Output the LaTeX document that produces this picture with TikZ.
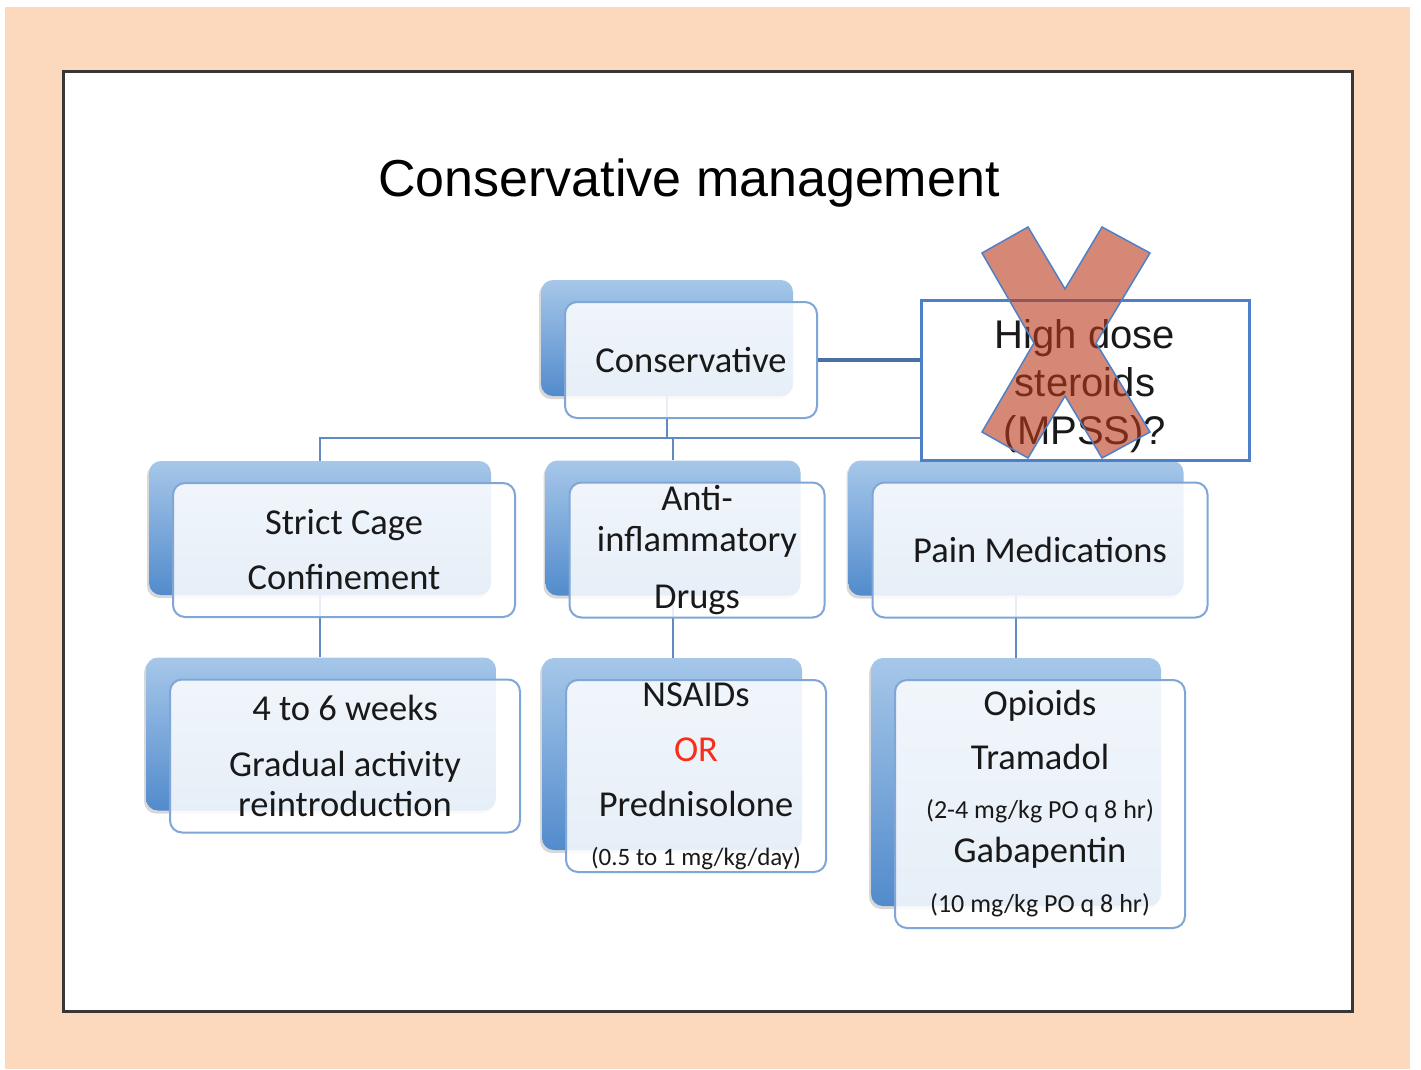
\documentclass[tikz,border=0pt]{standalone}
\usepackage{fontspec}
\setmainfont{Carlito}
\newfontfamily\arialfont{Liberation Sans}
\usetikzlibrary{calc, shadows}

\definecolor{peach}{RGB}{252,217,188}
\definecolor{framegray}{RGB}{55,55,55}
\definecolor{boxtop}{RGB}{166,199,233}
\definecolor{boxbot}{RGB}{82,139,204}
\definecolor{boxline}{RGB}{128,166,215}
\definecolor{linkblue}{RGB}{98,138,192}
\definecolor{sideblue}{RGB}{72,112,165}
\definecolor{doubtblue}{RGB}{78,128,200}
\definecolor{crossred}{RGB}{188,58,28}
\definecolor{orred}{RGB}{250,45,25}
\definecolor{inktext}{RGB}{25,25,25}

\begin{document}
\begin{tikzpicture}[x=1pt, y=-1pt,
        backbox/.style={rounded corners=12pt, top color=boxtop, bottom color=boxbot,
            drop shadow={shadow xshift=-2pt, shadow yshift=-3pt, opacity=0.3}},
        frontbox/.style={rounded corners=12pt, draw=boxline, line width=2, fill=white,
            fill opacity=0.86, text opacity=1, text=inktext, align=center, inner sep=0,
            font=\fontsize{36.5}{40}\selectfont},
        link/.style={draw=linkblue, line width=2.5},
        sidelink/.style={draw=sideblue, line width=4},
        doubtbox/.style={draw=doubtblue, line width=3, fill=white},
        doubttext/.style={align=center, text=inktext, font=\arialfont\fontsize{40}{48}\selectfont},
        cross/.style={fill=crossred, fill opacity=0.6, draw=doubtblue, line width=1.5}]
        \useasboundingbox (0,0) rectangle (1421,1069);
        \fill[peach] (5,7) rectangle (1410,1069);
        \draw[framegray, line width=3, fill=white] (63,71) rectangle (1352,1011);

        \node[font=\arialfont\fontsize{52}{60}\selectfont] (title) at (689,183) {Conservative management};

        % shaded boxes behind
        \node[backbox, minimum width=252, minimum height=116] (consB) at (667,338) {};
        \node[backbox, minimum width=342, minimum height=134] (strictB) at (320,528) {};
        \node[backbox, minimum width=255, minimum height=135] (antiB) at (673,528) {};
        \node[backbox, minimum width=335, minimum height=135] (painB) at (1016,528) {};
        \node[backbox, minimum width=350, minimum height=153] (weeksB) at (321,734) {};
        \node[backbox, minimum width=260, minimum height=192] (nsaidB) at (672,754) {};
        \node[backbox, minimum width=290, minimum height=248] (opioidB) at (1016,782) {};

        \coordinate (bus) at (0,438);
        \draw[link] (consB.south) -- (consB.south |- bus);
        \draw[link] (strictB.north) |- (painB.north |- bus) -- (painB.north);
        \draw[link] (antiB.north |- bus) -- (antiB.north);
        \draw[link] (strictB.south) -- (strictB.south |- weeksB.north);
        \draw[link] (antiB.south) -- (antiB.south |- nsaidB.north);
        \draw[link] (painB.south) -- (painB.south |- opioidB.north);

        % front boxes
        \node[frontbox, minimum width=252, minimum height=116] (cons) at ($(consB)+(24,22)$) {Conservative};
        \node[frontbox, minimum width=342, minimum height=134] (strict) at ($(strictB)+(24,22)$)
            {Strict Cage\\[15pt]Confinement};
        \node[frontbox, minimum width=255, minimum height=135] (anti) at ($(antiB)+(24,22)$)
            {Anti-\\[1pt]inflammatory\\[17pt]Drugs};
        \node[frontbox, minimum width=335, minimum height=135] (pain) at ($(painB)+(24,22)$) {Pain Medications};
        \node[frontbox, minimum width=350, minimum height=153] (weeks) at ($(weeksB)+(24,22)$)
            {4 to 6 weeks\\[16pt]Gradual activity\\reintroduction};
        \node[frontbox, minimum width=260, minimum height=192] (nsaid) at ($(nsaidB)+(24,22)$)
            {NSAIDs\\[15pt]{\color{orred}OR}\\[15pt]Prednisolone\\[9pt]{\fontsize{25}{30}\selectfont(0.5 to 1 mg/kg/day)}};
        \node[frontbox, minimum width=290, minimum height=248] (opioid) at ($(opioidB)+(24,22)$)
            {Opioids\\[14pt]Tramadol\\[9pt]{\fontsize{26}{30}\selectfont(2-4 mg/kg PO q 8 hr)}\\[4pt]Gabapentin\\[10pt]{\fontsize{26}{30}\selectfont(10 mg/kg PO q 8 hr)}};

        \node[doubtbox, minimum width=328, minimum height=160] (steroid) at (1085,380) {};
        \node[doubttext] (steroidtext) at ($(steroid)+(0,6)$) {High dose\\steroids\\(MPSS)?};
        \draw[sidelink] (cons.east) -- (cons.east -| steroid.west);

        \filldraw[cross] (982,253) -- (1028,227) -- (1065,289) -- (1102,227) -- (1150,253)
            -- (1096,343) -- (1150,432) -- (1102,458) -- (1065,396) -- (1028,458)
            -- (982,432) -- (1034,343) -- cycle;
    \end{tikzpicture}
\end{document}
